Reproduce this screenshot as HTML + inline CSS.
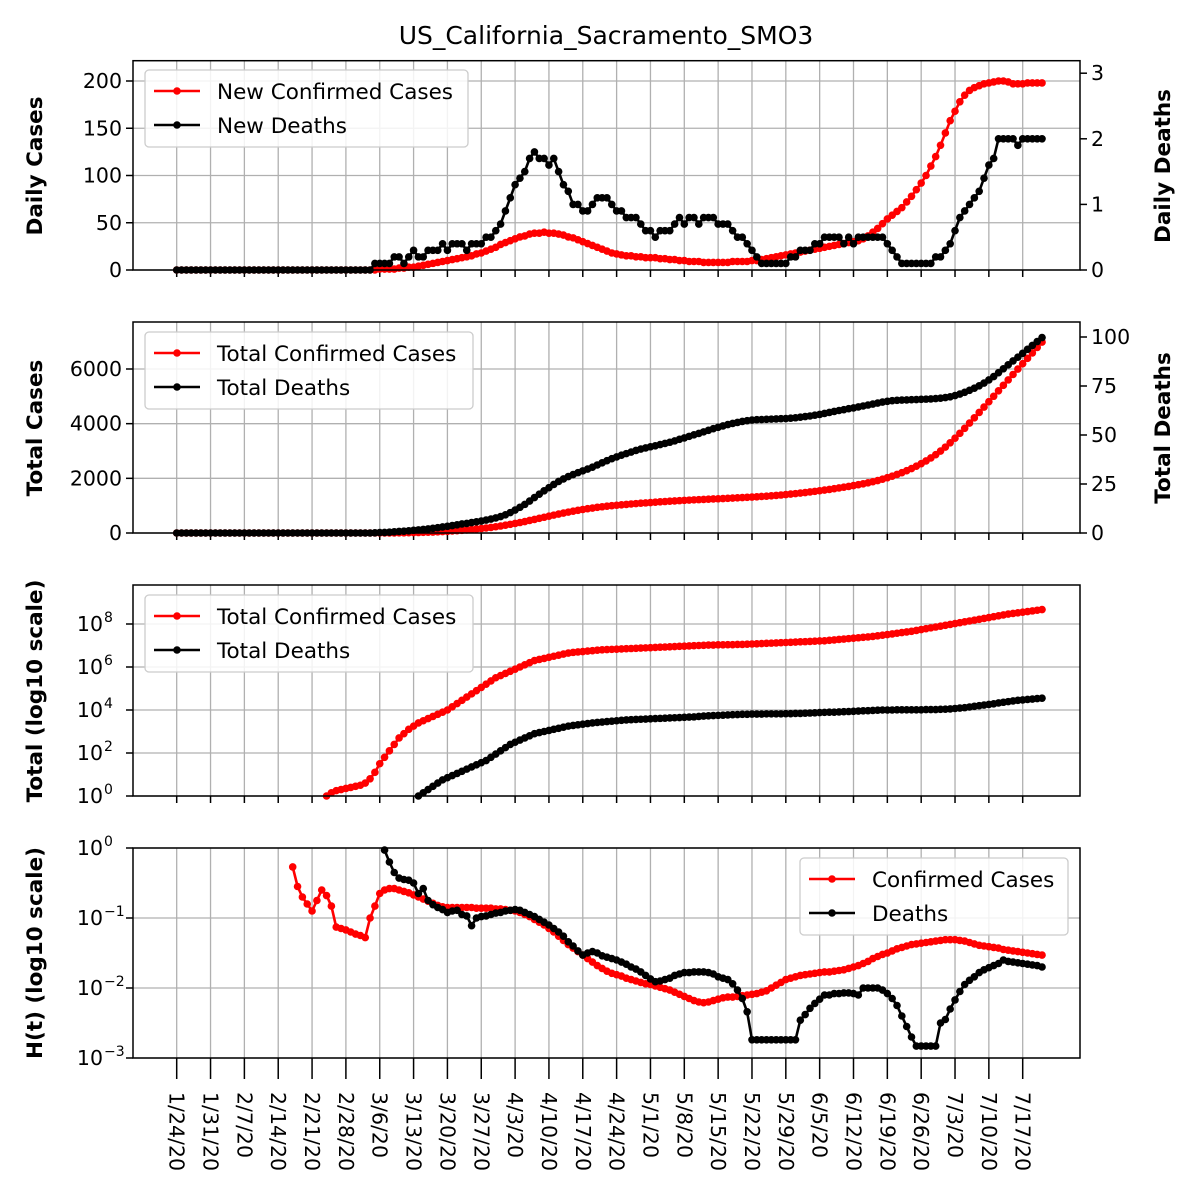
<!DOCTYPE html>
<html><head><meta charset="utf-8">
<style>
html,body{margin:0;padding:0;background:#fff;}
svg{display:block;font-family:"DejaVu Sans","Liberation Sans",sans-serif;}
</style></head>
<body>
<svg id="chart" width="1200" height="1200" viewBox="0 0 1200 1200" xmlns="http://www.w3.org/2000/svg">
<rect width="1200" height="1200" fill="#fff"/>
<text x="606" y="44" text-anchor="middle" font-size="25">US_California_Sacramento_SMO3</text>
</svg>
<script>
const dateLabels=["1/24/20","1/31/20","2/7/20","2/14/20","2/21/20","2/28/20","3/6/20","3/13/20","3/20/20","3/27/20","4/3/20","4/10/20","4/17/20","4/24/20","5/1/20","5/8/20","5/15/20","5/22/20","5/29/20","6/5/20","6/12/20","6/19/20","6/26/20","7/3/20","7/10/20","7/17/20"];
const N=null;
// all series start on 1/24/20 (index 0)
const newCases=[0,0,0,0,0, 0,0,0,0,0,0,0, 0,0,0,0,0,0,0, 0,0,0,0,0,0,0, 0,0,0,0,0,0,0, 0,0,0,0,0,0,0,
0,0,1,1,1,1,2, 2,3,3,4,5,6,7, 8,9,10,11,12,13,14, 15,17,18,20,22,24,27, 29,31,33,35,36,38,39,
39,40,39,39,38,37,35, 34,32,30,28,26,24,22, 20,18,17,16,15,15,14, 14,13,13,13,12,12,11,
11,10,10,9,9,9,8, 8,8,8,8,8,9,9, 9,9,10,10,11,12,13, 14,15,16,17,18,19,20, 21,22,23,24,25,26,27,
28,29,30,31,33,36,40, 44,49,54,58,62,66,72, 78,85,92,100,110,120,132, 145,158,168,178,185,190,193,
195,197,198,199,200,200,199, 197,197,197,198,198,198,198];
const newDeaths=[0,0,0,0,0, 0,0,0,0,0,0,0, 0,0,0,0,0,0,0, 0,0,0,0,0,0,0, 0,0,0,0,0,0,0, 0,0,0,0,0,0,0,
0,0.1,0.1,0.1,0.1,0.2,0.2, 0.1,0.2,0.3,0.2,0.2,0.3,0.3, 0.3,0.4,0.3,0.4,0.4,0.4,0.3, 0.4,0.4,0.4,0.5,0.5,0.6,0.7,
0.9,1.1,1.3,1.4,1.5,1.7,1.8, 1.7,1.7,1.6,1.7,1.5,1.3,1.2, 1.0,1.0,0.9,0.9,1.0,1.1,1.1, 1.1,1.0,0.9,0.9,0.8,0.8,0.8,
0.7,0.6,0.6,0.5,0.6,0.6,0.6, 0.7,0.8,0.7,0.8,0.8,0.7,0.8, 0.8,0.8,0.7,0.7,0.7,0.6,0.5, 0.5,0.4,0.3,0.2,0.1,0.1,0.1,
0.1,0.1,0.1,0.2,0.2,0.3,0.3, 0.3,0.4,0.4,0.5,0.5,0.5,0.5, 0.4,0.5,0.4,0.5,0.5,0.5,0.5, 0.5,0.5,0.4,0.3,0.2,0.1,0.1,
0.1,0.1,0.1,0.1,0.1,0.2,0.2, 0.3,0.4,0.6,0.8,0.9,1.0,1.1, 1.2,1.4,1.6,1.7,2.0,2.0,2.0, 2.0,1.9,2.0,2.0,2.0,2.0,2.0];
const logCases=[N,N,N,N,N, N,N,N,N,N,N,N, N,N,N,N,N,N,N, N,N,N,N,N,N,N,
N,N,N,N,N,0.0,0.15, 0.25,0.3,0.35,0.4,0.45,0.5,0.6, 0.8,1.1,1.5,1.8,2.1,2.4,2.7, 2.9,3.1,3.25,3.4,3.5,3.6,3.7,
3.8,3.9,4.0,4.15,4.3,4.45,4.6, 4.75,4.9,5.05,5.2,5.35,5.5,5.6, 5.7,5.8,5.9,6.0,6.1,6.2,6.3, 6.35,6.4,6.45,6.5,6.55,6.6,6.65,
6.68,6.7,6.72,6.74,6.76,6.78,6.8, 6.81,6.82,6.83,6.84,6.85,6.86,6.87, 6.88,6.89,6.9,6.91,6.92,6.93,6.94, 6.95,6.96,6.97,6.98,6.99,7.0,7.01,
7.02,7.02,7.03,7.03,7.04,7.04,7.05, 7.05,7.06,7.07,7.08,7.09,7.1,7.11, 7.12,7.13,7.14,7.15,7.16,7.17,7.18, 7.19,7.2,7.21,7.22,7.24,7.26,7.28,
7.3,7.32,7.34,7.36,7.38,7.4,7.42, 7.45,7.48,7.51,7.54,7.57,7.6,7.63, 7.66,7.7,7.74,7.78,7.82,7.86,7.9, 7.94,7.98,8.02,8.06,8.1,8.14,8.18,
8.22,8.26,8.3,8.34,8.38,8.42,8.46, 8.49,8.52,8.55,8.58,8.61,8.64,8.67];
const logDeaths=[N,N,N,N,N, N,N,N,N,N,N,N, N,N,N,N,N,N,N, N,N,N,N,N,N,N, N,N,N,N,N,N,N, N,N,N,N,N,N,N, N,N,N,N,N,N,N,
N,N,N,0.0,0.15,0.3,0.45, 0.6,0.75,0.85,0.95,1.05,1.15,1.25, 1.35,1.45,1.55,1.65,1.8,1.95,2.1, 2.25,2.4,2.5,2.6,2.7,2.8,2.9,
2.95,3.0,3.05,3.1,3.15,3.2,3.25, 3.28,3.31,3.34,3.37,3.4,3.42,3.44, 3.46,3.48,3.5,3.52,3.54,3.55,3.56, 3.57,3.58,3.59,3.6,3.61,3.62,3.63,
3.64,3.65,3.66,3.67,3.68,3.7,3.72, 3.73,3.74,3.75,3.76,3.77,3.78,3.79, 3.8,3.8,3.81,3.81,3.81,3.82,3.82, 3.82,3.82,3.83,3.83,3.84,3.84,3.85,
3.86,3.87,3.88,3.89,3.9,3.9,3.91, 3.92,3.93,3.94,3.95,3.96,3.97,3.98, 3.99,4.0,4.0,4.0,4.01,4.01,4.01, 4.01,4.01,4.01,4.02,4.02,4.02,4.03,
4.04,4.05,4.07,4.09,4.11,4.14,4.17, 4.2,4.23,4.26,4.29,4.33,4.36,4.39, 4.42,4.45,4.47,4.49,4.51,4.53,4.55];
const hCases=[N,N,N,N,N, N,N,N,N,N,N,N, N,N,N,N,N,N,N, N,N,N,N,N,-0.27,-0.55,
-0.7,-0.8,-0.9,-0.75,-0.6,-0.68,-0.83, -1.13,-1.15,-1.17,-1.2,-1.23,-1.25,-1.28, -1.0,-0.83,-0.65,-0.6,-0.58,-0.58,-0.6,
-0.62,-0.64,-0.67,-0.7,-0.73,-0.76,-0.79, -0.82,-0.84,-0.85,-0.85,-0.85,-0.85,-0.85, -0.85,-0.86,-0.86,-0.86,-0.86,-0.87,-0.87,
-0.88,-0.89,-0.9,-0.92,-0.95,-0.98,-1.02, -1.06,-1.1,-1.15,-1.2,-1.26,-1.32,-1.38, -1.43,-1.48,-1.53,-1.58,-1.63,-1.68,-1.72,
-1.76,-1.79,-1.81,-1.83,-1.86,-1.88,-1.9, -1.92,-1.94,-1.95,-1.97,-1.99,-2.01,-2.03, -2.06,-2.09,-2.12,-2.15,-2.18,-2.2,-2.21,
-2.2,-2.18,-2.16,-2.14,-2.13,-2.13,-2.12, -2.11,-2.1,-2.09,-2.08,-2.06,-2.04,-2.0, -1.96,-1.92,-1.88,-1.86,-1.84,-1.82,-1.81,
-1.8,-1.79,-1.78,-1.77,-1.77,-1.76,-1.75, -1.74,-1.72,-1.7,-1.68,-1.65,-1.62,-1.58, -1.55,-1.52,-1.5,-1.47,-1.44,-1.42,-1.4,
-1.38,-1.37,-1.36,-1.35,-1.34,-1.33,-1.32, -1.31,-1.31,-1.31,-1.32,-1.33,-1.35,-1.37, -1.39,-1.4,-1.41,-1.42,-1.43,-1.45,-1.46,
-1.47,-1.48,-1.49,-1.5,-1.51,-1.52,-1.53];
const hDeaths=[N,N,N,N,N, N,N,N,N,N,N,N, N,N,N,N,N,N,N, N,N,N,N,N,N,N, N,N,N,N,N,N,N, N,N,N,N,N,N,N,
N,N,N,-0.03,-0.2,-0.35,-0.43, -0.45,-0.46,-0.5,-0.65,-0.58,-0.75,-0.81, -0.85,-0.88,-0.92,-0.9,-0.89,-0.95,-0.97,
-1.11,-1.0,-0.98,-0.97,-0.95,-0.93,-0.92, -0.9,-0.89,-0.88,-0.89,-0.92,-0.95,-0.98, -1.02,-1.06,-1.1,-1.15,-1.2,-1.26,-1.34,
-1.4,-1.47,-1.53,-1.5,-1.48,-1.5,-1.54, -1.56,-1.58,-1.6,-1.63,-1.66,-1.7,-1.73, -1.77,-1.82,-1.87,-1.91,-1.9,-1.88,-1.86,
-1.82,-1.8,-1.78,-1.78,-1.77,-1.77,-1.77, -1.78,-1.8,-1.84,-1.86,-1.88,-1.94,-2.03, -2.15,-2.34,-2.74,-2.74,-2.74,-2.74,-2.74,
-2.74,-2.74,-2.74,-2.74,-2.74,-2.46,-2.38, -2.29,-2.22,-2.16,-2.1,-2.1,-2.08,-2.08, -2.07,-2.07,-2.08,-2.1,-2.0,-2.0,-2.0,
-2.0,-2.03,-2.08,-2.15,-2.25,-2.4,-2.55, -2.7,-2.83,-2.83,-2.83,-2.83,-2.83,-2.5, -2.45,-2.3,-2.17,-2.05,-1.95,-1.89,-1.84,
-1.78,-1.74,-1.71,-1.68,-1.65,-1.6,-1.62, -1.63,-1.64,-1.65,-1.66,-1.67,-1.68,-1.7];

const svg=document.getElementById('chart');
const NS='http://www.w3.org/2000/svg';
function mk(tag,attrs,parent,text){const e=document.createElementNS(NS,tag);for(const k in attrs)e.setAttribute(k,attrs[k]);if(text!==undefined)e.textContent=text;(parent||svg).appendChild(e);return e;}
const L=133,R=1080;
const x0=176.7,pxDay=(1022.7-176.7)/175; // index 0 = 1/24/20
function xs(d){return x0+d*pxDay;}
const totalCases=[],totalDeaths=[];
let sc=0,sd=0;
for(let i=0;i<newCases.length;i++){sc+=newCases[i];sd+=newDeaths[i];totalCases.push(sc);totalDeaths.push(sd);}
const FS=20.5;

function panel(name,top,bot,tickLen){
  const g=mk('g',{},svg);
  
  
  const grid=mk('g',{stroke:'#b0b0b0','stroke-width':1.3},g);
  for(let k=0;k<dateLabels.length;k++){const x=xs(7*k);mk('line',{x1:x,x2:x,y1:top,y2:bot},grid);mk('line',{x1:x,x2:x,y1:bot,y2:bot+tickLen,stroke:'#000','stroke-width':1.5},g);}
  return {g,grid,top,bot};
}
function yTick(p,y,label,sup){
  mk('line',{x1:L,x2:R,y1:y,y2:y},p.grid);
  mk('line',{x1:L-7,x2:L,y1:y,y2:y,stroke:'#000','stroke-width':1.5},p.g);
  if(sup!==undefined){
    const t=mk('text',{x:L-30,y:y+7,'text-anchor':'end','font-size':FS},p.g,label);
    mk('text',{x:L-29,y:y-2,'font-size':14},p.g,sup);
  } else mk('text',{x:L-11,y:y+7,'text-anchor':'end','font-size':FS},p.g,label);
}
function rTick(p,y,label){
  mk('line',{x1:R,x2:R+7,y1:y,y2:y,stroke:'#000','stroke-width':1.5},p.g);
  mk('text',{x:R+11,y:y+7,'font-size':FS},p.g,label);
}
function series(p,vals,xf,yf,color,name){
  const sg=mk('g',{},p.g);
  
  
  let d='',pen=false;const pts=[];
  vals.forEach((v,i)=>{if(v===null){pen=false;return;}const X=xf(i),Y=yf(v);if(Y<p.top-2){pen=false;return;}d+=(pen?'L':'M')+X.toFixed(1)+','+Y.toFixed(1);pen=true;pts.push([X,Y]);});
  mk('path',{d:d,fill:'none',stroke:color,'stroke-width':2.6,'stroke-linejoin':'round'},sg);
  pts.forEach(([X,Y])=>mk('circle',{cx:X,cy:Y,r:3.8,fill:color},sg));
}
function frame(p){mk('rect',{x:L,y:p.top,width:R-L,height:p.bot-p.top,fill:'none',stroke:'#000','stroke-width':1.5},p.g);}
function ylabel(x,y,txt,name){const t=mk('text',{transform:`translate(${x},${y}) rotate(-90)`,'text-anchor':'middle','font-size':21.5,'font-weight':'bold'},svg,txt);
  }
function legend(x,y,w,entries,name){
  const lg=mk('g',{},svg);
  
  
  mk('rect',{x:x,y:y,width:w,height:77,rx:4,fill:'#fff','fill-opacity':0.85,stroke:'#ccc','stroke-width':1.3},lg);
  entries.forEach((e,i)=>{const yy=y+21+i*34;
    const en=mk('g',{},lg);
    
    
    mk('line',{x1:x+9,x2:x+55,y1:yy,y2:yy,stroke:e[1],'stroke-width':2.6},en);
    mk('circle',{cx:x+32,cy:yy,r:3.8,fill:e[1]},en);
    mk('text',{x:x+72,y:yy+8,'font-size':21.5},en,e[0]);});
}

// Panel 1
const p1=panel('daily-panel',60.7,270,7);
const y1L=v=>270-v*(270-81)/200, y1R=v=>270-v*65.6;
[0,50,100,150,200].forEach(v=>yTick(p1,y1L(v),String(v)));
[0,1,2,3].forEach(v=>rTick(p1,y1R(v),String(v)));
series(p1,newCases,xs,y1L,'#ff0000','new-cases-series');
series(p1,newDeaths,xs,y1R,'#000000','new-deaths-series');
frame(p1);

// Panel 2
const p2=panel('total-panel',322,533,7);
const y2L=v=>533-v*(533-369)/6000, y2R=v=>533-v*1.96;
[0,2000,4000,6000].forEach(v=>yTick(p2,y2L(v),String(v)));
[0,25,50,75,100].forEach(v=>rTick(p2,y2R(v),String(v)));
series(p2,totalCases,xs,y2L,'#ff0000','total-cases-series');
series(p2,totalDeaths,xs,y2R,'#000000','total-deaths-series');
frame(p2);

// Panel 3
const p3=panel('log-total-panel',585,796,7);
const y3=v=>796-v*21.5;
[0,2,4,6,8].forEach(v=>yTick(p3,y3(v),'10',String(v)));
series(p3,logCases,xs,y3,'#ff0000','log-total-cases-series');
series(p3,logDeaths,xs,y3,'#000000','log-total-deaths-series');
frame(p3);

// Panel 4
const p4=panel('growth-rate-panel',848,1058,21);
const y4=v=>848-v*70;
[0,-1,-2,-3].forEach(v=>yTick(p4,y4(v),'10',String(v).replace('-','−')));
series(p4,hCases,xs,y4,'#ff0000','h-cases-series');
series(p4,hDeaths,xs,y4,'#000000','h-deaths-series');
frame(p4);

// x tick labels (rotated, reading top to bottom)
dateLabels.forEach((lab,k)=>{const x=xs(7*k);
  const t=mk('text',{transform:`translate(${x-7},1092) rotate(90)`,'text-anchor':'start','font-size':FS},svg,lab);
  });

ylabel(42,166,'Daily Cases','y-axis-title-daily-cases');
ylabel(1170,166,'Daily Deaths','y-axis-title-daily-deaths');
ylabel(42,428,'Total Cases','y-axis-title-total-cases');
ylabel(1170,428,'Total Deaths','y-axis-title-total-deaths');
ylabel(42,691,'Total (log10 scale)','y-axis-title-log-total');
ylabel(42,953,'H(t) (log10 scale)','y-axis-title-h');

legend(145,70,323,[['New Confirmed Cases','#ff0000'],['New Deaths','#000']],'legend-daily');
legend(145,332,328,[['Total Confirmed Cases','#ff0000'],['Total Deaths','#000']],'legend-total');
legend(145,595,328,[['Total Confirmed Cases','#ff0000'],['Total Deaths','#000']],'legend-log-total');
legend(800,858,268,[['Confirmed Cases','#ff0000'],['Deaths','#000']],'legend-h');
</script>
</body></html>
